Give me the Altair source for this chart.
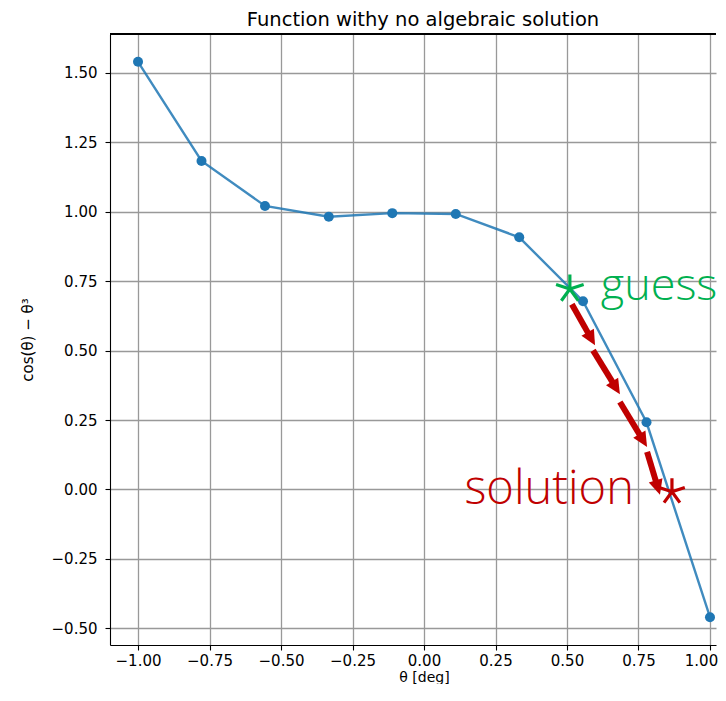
import math
import altair as alt
import pandas as pd

# ---- data ----
theta = [-1.0, -0.778, -0.556, -0.333, -0.111, 0.111, 0.333, 0.556, 0.778, 1.0]
fvals = [1.540, 1.183, 1.021, 0.982, 0.995, 0.992, 0.908, 0.678, 0.242, -0.460]

x_ticks = [-1.0, -0.75, -0.5, -0.25, 0.0, 0.25, 0.5, 0.75, 1.0]
y_ticks = [-0.5, -0.25, 0.0, 0.25, 0.5, 0.75, 1.0, 1.25, 1.5]

guess_star_x = [0.510]
guess_star_y = [0.722]
sol_star_x = [0.867]
sol_star_y = [-0.008]

guess_label = ["guess"]
guess_label_x = [0.618]
guess_label_y = [0.681]
sol_label = ["solution"]
sol_label_x = [0.734]
sol_label_y = [-0.052]

arrow_x0 = [0.517, 0.591, 0.685, 0.780]
arrow_y0 = [0.667, 0.501, 0.315, 0.135]
arrow_x1 = [0.598, 0.685, 0.780, 0.825]
arrow_y1 = [0.519, 0.343, 0.153, -0.019]

# ---- layout ----
W, H = 606, 611
XDOM = [-1.098, 1.021]
YDOM = [-0.56, 1.64]
kx = W / (XDOM[1] - XDOM[0])
ky = H / (YDOM[1] - YDOM[0])

GREEN = "#00b050"
RED = "#c00000"
BLUE = "#1f77b4"

xs = alt.Scale(domain=XDOM, nice=False, zero=False)
ys = alt.Scale(domain=YDOM, nice=False, zero=False)
minus_expr = "replace(format(datum.value, '.2f'), '-', '\u2212')"
xaxis = alt.Axis(values=x_ticks, labelExpr=minus_expr, title="\u03b8 [deg]", titleX=314,
                 labelOffset={"condition": {"test": "datum.value >= 1", "value": -9}, "value": 0})
yaxis = alt.Axis(values=y_ticks, labelExpr=minus_expr, title="cos(\u03b8) \u2212 \u03b8\u00b3")


def X(field="x"):
    return alt.X(f"{field}:Q", scale=xs, axis=xaxis)


def Y(field="y"):
    return alt.Y(f"{field}:Q", scale=ys, axis=yaxis)


curve = pd.DataFrame({"x": theta, "y": fvals})
line = alt.Chart(curve).mark_line(color=BLUE, strokeWidth=2.4, opacity=0.85).encode(x=X(), y=Y())
pts = alt.Chart(curve).mark_circle(color=BLUE, size=100, opacity=1).encode(x=X(), y=Y())

# arrows: shaft + head per segment
rows = []
for a, b, c, d in zip(arrow_x0, arrow_y0, arrow_x1, arrow_y1):
    dxp = (c - a) * kx
    dyp = -(d - b) * ky
    L = math.hypot(dxp, dyp)
    f = 1 - 10 / L
    ang = math.degrees(math.atan2(dxp, dyp))  # rotation away from pointing-down
    rows.append({"x": a, "y": b, "xe": a + f * (c - a), "ye": b + f * (d - b),
                 "xt": c, "yt": d, "ang": (360 - ang) % 360})
arr = pd.DataFrame(rows)
shafts = alt.Chart(arr).mark_rule(color=RED, strokeWidth=6, strokeCap="butt").encode(
    x=X(), y=Y(), x2="xe:Q", y2="ye:Q")
heads = alt.Chart(arr).mark_point(
    shape="M0,0 L-0.95,-2 L0.95,-2 Z", filled=True, color=RED, size=225, opacity=1
).encode(x=X("xt"), y=Y("yt"), angle=alt.Angle("ang:Q", scale=None))

ASTER = ("M0,0 L0,-1 M0,0 L0.951,-0.309 M0,0 L0.588,0.809 "
         "M0,0 L-0.588,0.809 M0,0 L-0.951,-0.309")
gstar = alt.Chart(pd.DataFrame({"x": guess_star_x, "y": guess_star_y})).mark_point(
    shape=ASTER, filled=False, color=GREEN, strokeWidth=3.2, size=841, opacity=1
).encode(x=X(), y=Y())
sstar = alt.Chart(pd.DataFrame({"x": sol_star_x, "y": sol_star_y})).mark_point(
    shape=ASTER, filled=False, color=RED, strokeWidth=3.2, size=729, opacity=1
).encode(x=X(), y=Y())

gtext = alt.Chart(pd.DataFrame({"x": guess_label_x, "y": guess_label_y, "t": guess_label})).mark_text(
    font="Open Sans", fontWeight=300, fontSize=45, color=GREEN, align="left",
    baseline="alphabetic"
).encode(x=X(), y=Y(), text="t:N")
stext = alt.Chart(pd.DataFrame({"x": sol_label_x, "y": sol_label_y, "t": sol_label})).mark_text(
    font="Open Sans", fontWeight=300, fontSize=47, color=RED, align="right",
    baseline="alphabetic"
).encode(x=X(), y=Y(), text="t:N")

topline = alt.Chart(curve).mark_rule(color="black", strokeWidth=1.1).encode(
    x=alt.value(0), x2=alt.value(W), y=alt.value(0))

chart = alt.layer(line, pts, shafts, heads, gstar, sstar, gtext, stext, topline).properties(
    width=W, height=H,
    title=alt.TitleParams("Function withy no algebraic solution", font="DejaVu Sans",
                          fontSize=19.5, fontWeight="normal", color="black",
                          dx=10, dy=-5, offset=-2.2),
    padding={"left": 12, "top": 2, "right": 0, "bottom": 0},
).configure_view(stroke=None).configure_axis(
    labelFont="DejaVu Sans", labelFontSize=15, labelColor="black",
    titleFont="DejaVu Sans", titleFontSize=15, titleFontWeight="normal", titleColor="black",
    domainColor="black", domainWidth=1.1, tickColor="black", tickWidth=1.1, tickSize=5,
    gridColor="#999999", gridWidth=1.3, gridOpacity=1,
).configure_axisX(labelPadding=3, titlePadding=2, titleFontSize=14).configure_axisY(
    titlePadding=16, labelPadding=8)

chart.save("out.html", embed_options={"renderer": "svg", "actions": False})
